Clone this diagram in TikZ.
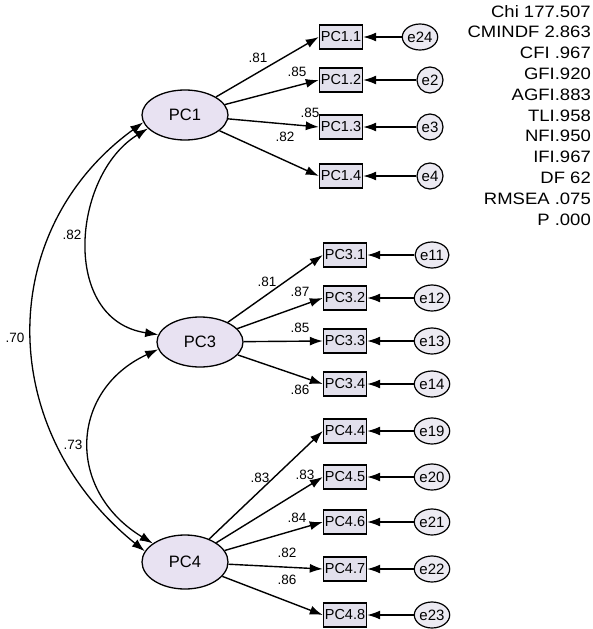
\documentclass[tikz,border=0pt]{standalone}
\usepackage{fontspec}
\setmainfont{Liberation Sans}
\newfontfamily\statfont[FakeStretch=1.12]{Liberation Sans}
\usetikzlibrary{arrows.meta,shapes.geometric}
\definecolor{latfill}{HTML}{E8E2F2}
\definecolor{boxfill}{HTML}{E2E0EC}
\definecolor{errfill}{HTML}{ECEAF2}
\begin{document}
\begin{tikzpicture}[x=1pt,y=-1pt,
  latent/.style={ellipse,draw,line width=1.3pt,fill=latfill,minimum width=86pt,minimum height=50pt,inner sep=0pt,font=\fontsize{16.5}{18}\selectfont},
  obs/.style={rectangle,draw,line width=1.4pt,fill=boxfill,minimum width=43pt,minimum height=24pt,inner sep=0.5pt,font=\fontsize{14.5}{16}\selectfont},
  err/.style={ellipse,draw,line width=1.2pt,fill=errfill,minimum width=26pt,minimum height=26pt,inner sep=0pt,font=\fontsize{15}{16}\selectfont},
  coef/.style={inner sep=0pt,font=\fontsize{13.5}{14}\selectfont},
  stat/.style={anchor=east,inner sep=0pt,font=\statfont\fontsize{16.5}{18}\selectfont},
  load/.style={-{Latex[length=13pt,width=9pt]},line width=1.4pt},
  cov/.style={{Latex[length=13pt,width=9pt]}-{Latex[length=13pt,width=9pt]},line width=1.3pt}
]
\useasboundingbox (0,0) rectangle (593,629);

% latent variables
\node[latent] (PC1) at (185,115) {PC1};
\node[latent] (PC3) at (200,342) {PC3};
\node[latent,minimum height=54pt] (PC4) at (185,562) {PC4};

% observed
\node[obs] (PC11) at (341,37) {PC1.1};
\node[obs] (PC12) at (341,80) {PC1.2};
\node[obs] (PC13) at (341,127) {PC1.3};
\node[obs] (PC14) at (341,176) {PC1.4};
\node[obs] (PC31) at (345,255) {PC3.1};
\node[obs] (PC32) at (345,298) {PC3.2};
\node[obs] (PC33) at (345,341) {PC3.3};
\node[obs] (PC34) at (345,384) {PC3.4};
\node[obs] (PC44) at (345,431) {PC4.4};
\node[obs] (PC45) at (345,477) {PC4.5};
\node[obs] (PC46) at (345,522) {PC4.6};
\node[obs] (PC47) at (345,569) {PC4.7};
\node[obs] (PC48) at (345,615) {PC4.8};

% errors
\node[err,minimum width=32pt] (e24) at (420,37) {e24};
\node[err] (e2) at (430,80) {e2};
\node[err] (e3) at (430,127) {e3};
\node[err] (e4) at (430,176) {e4};
\node[err] (e11) at (432,255) {e11};
\node[err] (e12) at (432,298) {e12};
\node[err] (e13) at (432,341) {e13};
\node[err] (e14) at (432,384) {e14};
\node[err] (e19) at (432,431) {e19};
\node[err] (e20) at (432,477) {e20};
\node[err] (e21) at (432,522) {e21};
\node[err] (e22) at (432,569) {e22};
\node[err] (e23) at (432,615) {e23};

% loadings
\foreach \b in {PC11,PC12,PC13,PC14} \draw[load] (PC1) -- (\b.west);
\foreach \b in {PC31,PC32,PC33,PC34} \draw[load] (PC3) -- (\b.west);
\foreach \b in {PC44,PC45,PC46,PC47,PC48} \draw[load] (PC4) -- (\b.west);

% error arrows
\foreach \e/\b in {e24/PC11,e2/PC12,e3/PC13,e4/PC14,e11/PC31,e12/PC32,e13/PC33,e14/PC34,e19/PC44,e20/PC45,e21/PC46,e22/PC47,e23/PC48}
  \draw[load] (\e) -- (\b.east);

% covariances
\draw[cov] (PC1.200) .. controls (72,175) and (60,320) .. (PC3.170);
\draw[cov] (PC1.190) .. controls (-5,230) and (-5,430) .. (PC4.165);
\draw[cov] (PC3.190) .. controls (70,390) and (65,490) .. (PC4.150);

% coefficient labels
\node[coef] (l11) at (258,58) {.81};
\node[coef] (l12) at (297,72) {.85};
\node[coef] (l13) at (310,113) {.85};
\node[coef] (l14) at (285,137) {.82};
\node[coef] (l31) at (267,282) {.81};
\node[coef] (l32) at (300,292) {.87};
\node[coef] (l33) at (300,328) {.85};
\node[coef] (l34) at (300,390) {.86};
\node[coef] (l44) at (260,478) {.83};
\node[coef] (l45) at (305,475) {.83};
\node[coef] (l46) at (297,518) {.84};
\node[coef] (l47) at (287,553) {.82};
\node[coef] (l48) at (287,580) {.86};
\node[coef] (c13) at (72,235) {.82};
\node[coef] (c14) at (15,338) {.70};
\node[coef] (c34) at (73,445) {.73};

% fit statistics
\foreach \t [count=\i from 0] in {Chi 177.507,CMINDF 2.863,CFI .967,GFI.920,AGFI.883,TLI.958,NFI.950,IFI.967,DF 62,RMSEA .075,P .000}
  \node[stat] (stat\i) at (591,{11.5+20.8*\i}) {\t};
\end{tikzpicture}
\end{document}
